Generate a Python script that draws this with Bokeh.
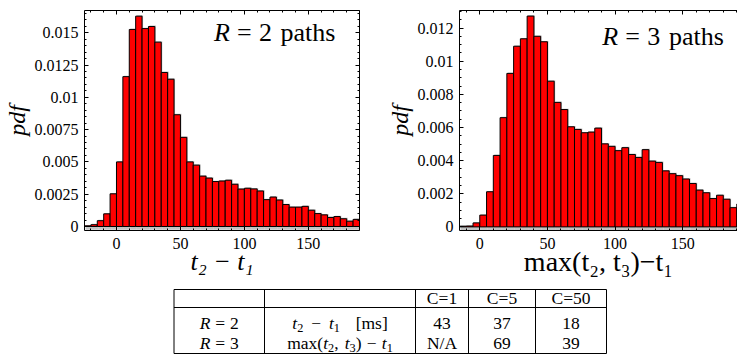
import numpy as np
from bokeh.plotting import figure
from bokeh.models import Range1d, LinearAxis, FixedTicker, CustomJSTickFormatter
from bokeh.layouts import column, row
from bokeh.core.properties import value
from bokeh.embed import file_html
from bokeh.resources import INLINE

# ---------------- data ----------------
r2_bin_start = -25
r2_bin_width = 5
r2_pdf = [0.00005, 0.00014, 0.00045, 0.00098, 0.00253, 0.0050, 0.0116, 0.01525,
          0.01628, 0.01532, 0.01548, 0.01427, 0.01192, 0.0114, 0.00865,
          0.0069, 0.0050, 0.00475, 0.0039, 0.00375, 0.00348, 0.00352, 0.00358,
          0.00327, 0.0029, 0.00296, 0.00291, 0.00275, 0.00208, 0.00228, 0.00205,
          0.0017, 0.0015, 0.0015, 0.00156, 0.00126, 0.001, 0.0009, 0.0007,
          0.00077, 0.0006, 0.00041, 0.00055]

r3_bin_start = -15
r3_bin_width = 5
r3_pdf = [0.00004, 0.00005, 0.00024, 0.00071, 0.00212, 0.00431, 0.00659, 0.00926,
          0.0109, 0.01135, 0.01272, 0.0115, 0.01117, 0.00879, 0.00751, 0.00708,
          0.00604, 0.00588, 0.00568, 0.00572, 0.00596, 0.00501, 0.00486, 0.0046,
          0.00478, 0.00437, 0.00419, 0.00466, 0.00397, 0.00389, 0.00338, 0.00321,
          0.00309, 0.00289, 0.00262, 0.00222, 0.00206, 0.00171, 0.00191, 0.00167,
          0.00116, 0.00138]

x_ticks = [0, 50, 100, 150]
r2_y_ticks = [0, 0.0025, 0.005, 0.0075, 0.01, 0.0125, 0.015]
r3_y_ticks = [0, 0.002, 0.004, 0.006, 0.008, 0.01, 0.012]
r2_x_label = "t\u2082 \u2212 t\u2081"
r3_x_label = "max(t\u2082, t\u2083)\u2212t\u2081"

table_header = ["C=1", "C=5", "C=50"]
table_r2 = ["43", "37", "18"]
table_r3 = ["N/A", "69", "39"]

FONT = "'Liberation Serif', 'Times New Roman', 'DejaVu Serif', serif"
MID = 0.3375   # baseline offset below the 'middle' anchor, in em
MINUS = "\u2212"

# Times metrics (1/1000 em)
W_REG = {' ': 250, '(': 333, ')': 333, ',': 250, '=': 564, '[': 333, ']': 333,
         'C': 667, 'N': 722, 'A': 722, '/': 278, 'a': 444, 'm': 778, 'x': 500,
         's': 389, 'h': 500, 'p': 500, 't': 278, MINUS: 564}
for d in "0123456789":
    W_REG[d] = 500
W_IT = {'t': 278, 'R': 611, 'p': 500, 'd': 500, 'f': 278}


def layout_rich(pieces, size):
    """pieces: (text, italic, sub, gap_em) -> list of (dx, dy, text, italic, fs), width"""
    out, x = [], 0.0
    for text, italic, sub, gap in pieces:
        x += gap * size
        fs = size * 0.7 if sub else size
        dy = 0.2 * size if sub else 0.0
        out.append((x, dy, text, italic, fs))
        tbl = W_IT if italic else W_REG
        x += sum(tbl.get(c, 500) for c in text) / 1000.0 * fs
    return out, x


def rich_text(p, x_of, y_of, x0_px, base_px, pieces, size, align="left"):
    """Mixed-style text as text glyphs; x_of / y_of map page px to data coords."""
    pcs, w = layout_rich(pieces, size)
    if align == "center":
        x0_px = x0_px - w / 2.0
    groups = {}
    for dx, dy, t, it, fs in pcs:
        groups.setdefault((it, round(fs, 2)), []).append(
            (x_of(x0_px + dx), y_of(base_px + dy - MID * fs), t))
    for (it, fs), items in groups.items():
        p.text(x=[i[0] for i in items], y=[i[1] for i in items], text=[i[2] for i in items],
               text_font=value(FONT), text_font_size=value(f"{fs}px"),
               text_font_style="italic" if it else "normal",
               text_align="left", text_baseline="middle", text_color="black")


def add_axis(p, side, ticks, minor, labels=True, standoff=6, axis_label=None,
             label_size="24px", label_style="italic", label_standoff=2):
    ax = LinearAxis(ticker=FixedTicker(ticks=ticks, minor_ticks=list(minor)))
    ax.major_tick_in = 4
    ax.major_tick_out = 0
    ax.minor_tick_in = 2
    ax.minor_tick_out = 0
    ax.axis_line_color = "black"
    ax.major_tick_line_color = "black"
    ax.minor_tick_line_color = "black"
    if labels:
        ax.formatter = CustomJSTickFormatter(code="return tick.toString();")
        ax.major_label_text_font = FONT
        ax.major_label_text_font_size = "16px"
        ax.major_label_text_color = "black"
        ax.major_label_standoff = standoff
    else:
        ax.formatter = CustomJSTickFormatter(code="return '';")
        ax.major_label_text_font_size = "0px"
        ax.major_label_standoff = 0
    if axis_label:
        ax.axis_label = axis_label
        ax.axis_label_text_font = FONT
        ax.axis_label_text_font_style = label_style
        ax.axis_label_text_font_size = label_size
        ax.axis_label_text_color = "black"
        ax.axis_label_standoff = label_standoff
    p.add_layout(ax, side)
    return ax


def hist_fig(width, height, bl, br, bt, bb, xr, yr):
    p = figure(width=width, height=height, x_range=Range1d(*xr), y_range=Range1d(*yr),
               output_backend="svg", toolbar_location=None,
               x_axis_location=None, y_axis_location=None,
               min_border_left=bl, min_border_right=br, min_border_top=bt, min_border_bottom=bb)
    p.outline_line_color = None
    p.grid.visible = False
    p.background_fill_color = "white"
    p.border_fill_color = "white"
    return p


TOP_H = 285

# ---------------- left histogram (R = 2) ----------------
L_X = (-25, 190)
L_FRAME = (83, 359, 10, 230)      # left, right, top, bottom in px
L_Y0PX, L_PPY = 226.0, 12920.0    # px of pdf=0, px per pdf unit
L_Y = (-(L_FRAME[3] - L_Y0PX) / L_PPY, (L_Y0PX - L_FRAME[2]) / L_PPY)
p1 = hist_fig(370, TOP_H, 83, 11, 10, TOP_H - 230, L_X, L_Y)
e2 = r2_bin_start + r2_bin_width * np.arange(len(r2_pdf) + 1)
p1.quad(left=e2[:-1] + 0.8, right=e2[1:] + 0.8, bottom=-0.00025, top=np.array(r2_pdf) + 0.00007,
        fill_color="#9a9a9a", line_color=None, fill_alpha=0.6)
p1.quad(left=e2[:-1], right=e2[1:], bottom=0, top=r2_pdf,
        fill_color="#ff0000", line_color="black", line_width=1)
add_axis(p1, "left", r2_y_ticks, np.arange(0, 0.0171, 0.0005), axis_label="pdf")
add_axis(p1, "below", x_ticks, np.arange(-20, 191, 10), standoff=7, axis_label=r2_x_label,
         label_size="26px", label_style="italic", label_standoff=-5)
add_axis(p1, "above", x_ticks, np.arange(-20, 191, 10), labels=False)
add_axis(p1, "right", r2_y_ticks, np.arange(0, 0.0171, 0.0005), labels=False)

l_ppx = (L_FRAME[1] - L_FRAME[0]) / (L_X[1] - L_X[0])
rich_text(p1, lambda px: L_X[0] + (px - L_FRAME[0]) / l_ppx, lambda py: (L_Y0PX - py) / L_PPY,
          213, 40.5, [("R", True, False, 0), ("=", False, False, 0.28),
                      ("2", False, False, 0.28), ("paths", False, False, 0.33)], 26)

# ---------------- right histogram (R = 3) ----------------
R_X = (-15, 190.5)
R_FRAME = (459, 737, 7, 232)
R_Y0PX, R_PPY = 228.3, 16950.0
R_Y = (-(R_FRAME[3] - R_Y0PX) / R_PPY, (R_Y0PX - R_FRAME[2]) / R_PPY)
p2 = hist_fig(367, TOP_H, 89, 0, 7, TOP_H - 232, R_X, R_Y)
e3 = r3_bin_start + r3_bin_width * np.arange(len(r3_pdf) + 1)
p2.quad(left=e3[:-1] + 0.75, right=e3[1:] + 0.75, bottom=-0.0002, top=np.array(r3_pdf) + 0.00005,
        fill_color="#9a9a9a", line_color=None, fill_alpha=0.6)
p2.quad(left=e3[:-1], right=e3[1:], bottom=0, top=r3_pdf,
        fill_color="#ff0000", line_color="black", line_width=1)
add_axis(p2, "left", r3_y_ticks, np.arange(0, 0.0131, 0.0005), axis_label="pdf")
add_axis(p2, "below", x_ticks, np.arange(-10, 191, 10), standoff=7, axis_label=r3_x_label,
         label_size="28px", label_style="normal", label_standoff=-6)
add_axis(p2, "above", x_ticks, np.arange(-10, 191, 10), labels=False)

r_ppx = (R_FRAME[1] - R_FRAME[0]) / (R_X[1] - R_X[0])
rich_text(p2, lambda px: R_X[0] + (px - R_FRAME[0]) / r_ppx, lambda py: (R_Y0PX - py) / R_PPY,
          601.7, 42.3, [("R", True, False, 0), ("=", False, False, 0.28),
                        ("3", False, False, 0.28), ("paths", False, False, 0.33)], 26)

# ---------------- bottom: table ----------------
p3 = figure(width=737, height=356 - TOP_H, x_range=Range1d(0, 737), y_range=Range1d(356, TOP_H),
            output_backend="svg", toolbar_location=None,
            x_axis_location=None, y_axis_location=None, min_border=0)
p3.outline_line_color = None
p3.grid.visible = False
ident = lambda v: v

col_edges = [173.5, 264, 415, 468, 535, 606]
row_lines = [289, 307, 353]
p3.segment(x0=[col_edges[0]] * 3, x1=[col_edges[-1]] * 3, y0=row_lines, y1=row_lines,
           line_color="black", line_width=1)
p3.segment(x0=col_edges, x1=col_edges, y0=[row_lines[0]] * 6, y1=[row_lines[-1]] * 6,
           line_color="black", line_width=1)

TS = 17.5
centers = [(col_edges[i] + col_edges[i + 1]) / 2 for i in range(5)]
base_h, base_2, base_3 = 303.0, 328.5, 348.5
for j in range(3):
    rich_text(p3, ident, ident, centers[2 + j], base_h, [(table_header[j], False, False, 0)], TS, "center")
    rich_text(p3, ident, ident, centers[2 + j], base_2, [(table_r2[j], False, False, 0)], TS, "center")
    rich_text(p3, ident, ident, centers[2 + j], base_3, [(table_r3[j], False, False, 0)], TS, "center")
for base, num in ((base_2, "2"), (base_3, "3")):
    rich_text(p3, ident, ident, centers[0], base,
              [("R", True, False, 0), ("=", False, False, 0.28), (num, False, False, 0.28)], TS, "center")
rich_text(p3, ident, ident, centers[1], base_2,
          [("t", True, False, 0), ("2", False, True, 0), (MINUS, False, False, 0.45),
           ("t", True, False, 0.45), ("1", False, True, 0), ("[ms]", False, False, 0.9)], TS, "center")
rich_text(p3, ident, ident, centers[1], base_3,
          [("max(", False, False, 0), ("t", True, False, 0), ("2", False, True, 0),
           (",", False, False, 0), ("t", True, False, 0.35), ("3", False, True, 0),
           (")", False, False, 0), (MINUS, False, False, 0.3), ("t", True, False, 0.3),
           ("1", False, True, 0)], TS, "center")

layout = column(row(p1, p2), p3)
open("out.html", "w").write(file_html(layout, INLINE))
